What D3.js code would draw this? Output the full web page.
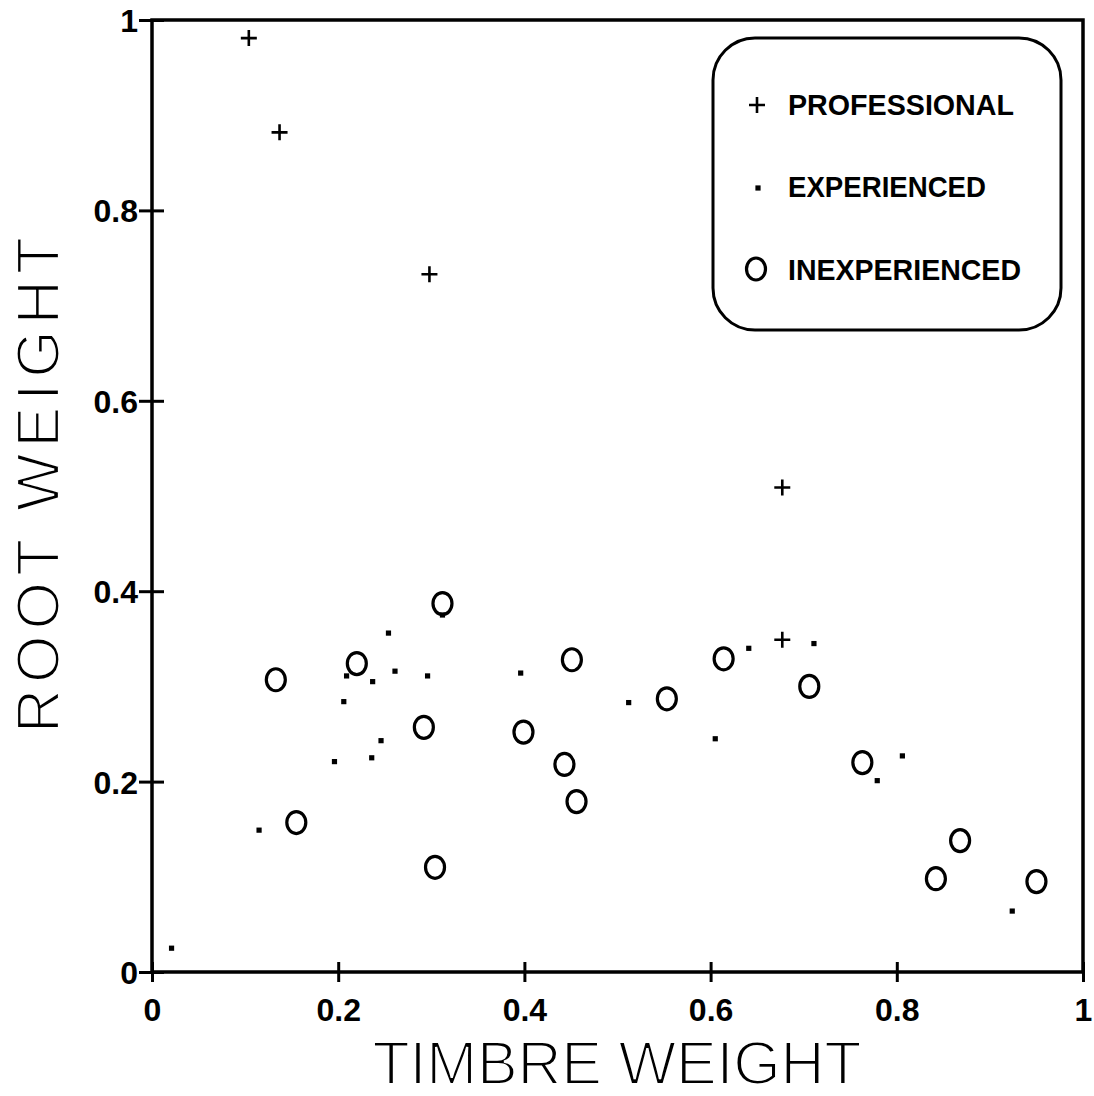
<!DOCTYPE html>
<html><head><meta charset="utf-8">
<script src="https://cdn.jsdelivr.net/npm/d3@7"></script>
<style>html,body{margin:0;padding:0;background:#fff;}svg{display:block;}</style>
</head><body>
<svg id="c" width="1094" height="1096"></svg>
<script>
// ---- data ----
const professionalX = [0.104, 0.137, 0.298, 0.677, 0.677];
const professionalY = [0.981, 0.882, 0.733, 0.509, 0.349];

const experiencedX = [0.021, 0.115, 0.254, 0.261, 0.296, 0.237, 0.206, 0.246, 0.236, 0.196, 0.312, 0.209, 0.396, 0.512, 0.605, 0.641, 0.711, 0.806, 0.779, 0.924];
const experiencedY = [0.025, 0.149, 0.356, 0.316, 0.311, 0.305, 0.284, 0.243, 0.225, 0.221, 0.375, 0.311, 0.314, 0.283, 0.245, 0.340, 0.345, 0.227, 0.201, 0.064];

const inexperiencedX = [0.133, 0.312, 0.220, 0.292, 0.155, 0.304, 0.451, 0.399, 0.443, 0.456, 0.553, 0.614, 0.706, 0.763, 0.868, 0.842, 0.950];
const inexperiencedY = [0.307, 0.387, 0.324, 0.257, 0.157, 0.110, 0.328, 0.252, 0.218, 0.179, 0.287, 0.329, 0.300, 0.220, 0.138, 0.098, 0.095];

const xTicks = [0, 0.2, 0.4, 0.6, 0.8, 1];
const xTickLabels = ["0", "0.2", "0.4", "0.6", "0.8", "1"];
const yTicks = [0, 0.2, 0.4, 0.6, 0.8, 1];
const yTickLabels = ["0", "0.2", "0.4", "0.6", "0.8", "1"];
const legendLabels = ["PROFESSIONAL", "EXPERIENCED", "INEXPERIENCED"];
const xTitle = "TIMBRE WEIGHT";
const yTitle = "ROOT WEIGHT";

// ---- layout ----
const L = 152, R = 1083, T = 20, B = 972;
const svg = d3.select("#c");
const x = d3.scaleLinear().domain([0, 1]).range([L, R]);
const y = d3.scaleLinear().domain([0, 1]).range([B, T]);
const lab = "'Liberation Sans', Arial, sans-serif";

// frame
const frame = svg.append("g").attr("stroke", "#000").attr("stroke-width", 3.5).attr("fill", "none");
frame.append("path").attr("d", `M${L},${T}H${R}V${B}H${L}Z`).attr("stroke-linejoin", "miter");

// x axis
const xa = svg.append("g").attr("transform", `translate(0,${B})`)
  .call(d3.axisBottom(x).tickValues(xTicks).tickSize(10).tickPadding(16)
    .tickFormat((d, i) => xTickLabels[i]));
xa.select(".domain").remove();
xa.selectAll(".tick line").attr("y1", -10).attr("y2", 10).attr("stroke", "#000").attr("stroke-width", 3);
xa.selectAll(".tick text").attr("font-family", lab).attr("font-weight", "bold")
  .attr("font-size", 32).attr("fill", "#000").attr("dy", "0.71em");

// y axis
const ya = svg.append("g").attr("transform", `translate(${L},0)`)
  .call(d3.axisLeft(y).tickValues(yTicks).tickSize(12).tickPadding(2)
    .tickFormat((d, i) => yTickLabels[i]));
ya.select(".domain").remove();
ya.selectAll(".tick line").attr("x1", -13).attr("x2", 12).attr("stroke", "#000").attr("stroke-width", 3);
ya.selectAll(".tick text").attr("font-family", lab).attr("font-weight", "bold")
  .attr("font-size", 32).attr("fill", "#000").attr("x", -14).attr("dy", "0.36em");

// axis titles (thin strokes, like a plotter font)
svg.append("text").attr("x", 617).attr("y", 1084).attr("text-anchor", "middle")
  .attr("font-family", lab).attr("font-size", 61).attr("fill", "#000")
  .attr("stroke", "#fff").attr("stroke-width", 2.2)
  .attr("textLength", 489).attr("lengthAdjust", "spacing")
  .text(xTitle);
svg.append("text").attr("transform", "translate(59,485) rotate(-90)").attr("text-anchor", "middle")
  .attr("font-family", lab).attr("font-size", 61).attr("fill", "#000")
  .attr("stroke", "#fff").attr("stroke-width", 2.2)
  .attr("textLength", 496).attr("lengthAdjust", "spacing")
  .text(yTitle);

// markers
function plus(g, cx, cy, s) {
  g.append("path").attr("d", `M${cx - s},${cy}H${cx + s}M${cx},${cy - s}V${cy + s}`)
    .attr("stroke", "#000").attr("stroke-width", 2.6).attr("fill", "none");
}
function dot(g, cx, cy) {
  g.append("rect").attr("x", cx - 2.6).attr("y", cy - 2.6).attr("width", 5.2).attr("height", 5.2).attr("fill", "#000");
}
function ring(g, cx, cy) {
  g.append("ellipse").attr("cx", cx).attr("cy", cy).attr("rx", 9.5).attr("ry", 11)
    .attr("stroke", "#000").attr("stroke-width", 3.2).attr("fill", "none");
}
const pts = svg.append("g");
experiencedX.forEach((v, i) => dot(pts, x(v), y(experiencedY[i])));
inexperiencedX.forEach((v, i) => ring(pts, x(v), y(inexperiencedY[i])));
professionalX.forEach((v, i) => plus(pts, x(v), y(professionalY[i]), 8));

// legend
const lg = svg.append("g");
lg.append("rect").attr("x", 713).attr("y", 38).attr("width", 348).attr("height", 292)
  .attr("rx", 42).attr("ry", 42).attr("fill", "none").attr("stroke", "#000").attr("stroke-width", 3);
const legY = [115, 197, 280];
const legW = [226, 198, 233];
plus(lg, 757, 105, 8);
dot(lg, 758, 188);
ring(lg, 756, 269);
legendLabels.forEach((t, i) => {
  lg.append("text").attr("x", 788).attr("y", legY[i]).attr("font-family", lab).attr("font-weight", "bold")
    .attr("font-size", 30).attr("fill", "#000")
    .attr("textLength", legW[i]).attr("lengthAdjust", "spacingAndGlyphs").text(t);
});
</script>
</body></html>
